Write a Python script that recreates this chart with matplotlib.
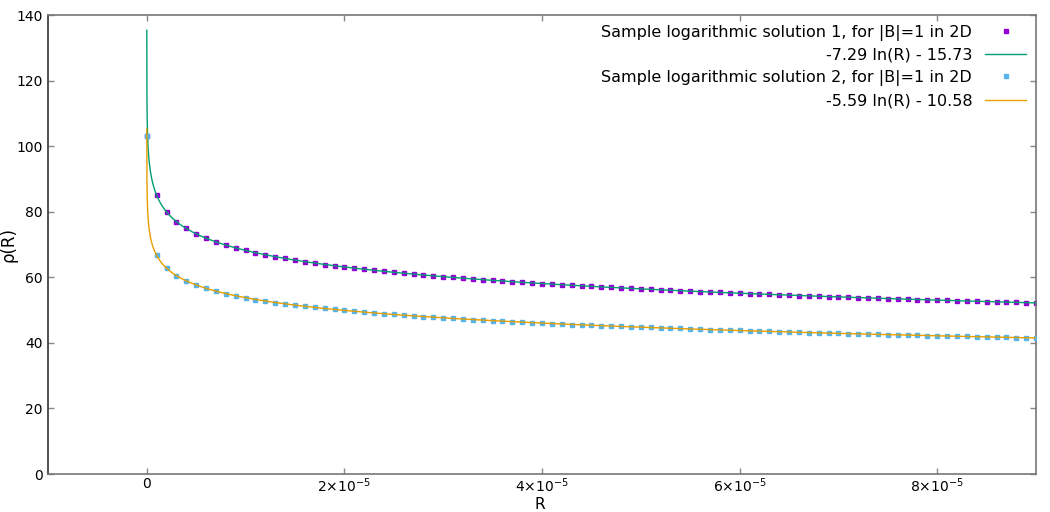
import numpy as np
import matplotlib
matplotlib.use("Agg")
import matplotlib.pyplot as plt
from matplotlib.ticker import FuncFormatter, MultipleLocator

# ---------- data ----------
# sample radius, step 1e-6 from 0 to 9e-5
R_step = 1e-6
n_points = 91

rho_sol1 = [103.0,
            85.0, 79.9, 77.0, 74.9, 73.3, 71.9, 70.8, 69.8, 69.0, 68.2,
            67.5, 66.9, 66.3, 65.8, 65.2, 64.8, 64.3, 63.9, 63.5, 63.2,
            62.8, 62.5, 62.1, 61.8, 61.5, 61.2, 61.0, 60.7, 60.4, 60.2,
            60.0, 59.7, 59.5, 59.3, 59.1, 58.9, 58.7, 58.5, 58.3, 58.1,
            57.9, 57.7, 57.6, 57.4, 57.2, 57.1, 56.9, 56.8, 56.6, 56.5,
            56.3, 56.2, 56.0, 55.9, 55.8, 55.6, 55.5, 55.4, 55.3, 55.1,
            55.0, 54.9, 54.8, 54.7, 54.6, 54.4, 54.3, 54.2, 54.1, 54.0,
            53.9, 53.8, 53.7, 53.6, 53.5, 53.4, 53.3, 53.2, 53.1, 53.0,
            53.0, 52.9, 52.8, 52.7, 52.6, 52.5, 52.4, 52.4, 52.3, 52.2]

rho_sol2 = [103.0,
            66.7, 62.8, 60.5, 58.9, 57.7, 56.6, 55.8, 55.0, 54.4, 53.8,
            53.2, 52.8, 52.3, 51.9, 51.5, 51.2, 50.8, 50.5, 50.2, 49.9,
            49.6, 49.4, 49.1, 48.9, 48.7, 48.4, 48.2, 48.0, 47.8, 47.6,
            47.5, 47.3, 47.1, 46.9, 46.8, 46.6, 46.5, 46.3, 46.2, 46.0,
            45.9, 45.8, 45.6, 45.5, 45.4, 45.2, 45.1, 45.0, 44.9, 44.8,
            44.7, 44.6, 44.5, 44.4, 44.2, 44.1, 44.0, 44.0, 43.9, 43.8,
            43.7, 43.6, 43.5, 43.4, 43.3, 43.2, 43.1, 43.1, 43.0, 42.9,
            42.8, 42.7, 42.7, 42.6, 42.5, 42.4, 42.4, 42.3, 42.2, 42.2,
            42.1, 42.0, 42.0, 41.9, 41.8, 41.8, 41.7, 41.6, 41.6, 41.5]

# fit coefficients from the legend: a ln(R) + b
fit1 = (-7.29, -15.73)
fit2 = (-5.59, -10.58)

labels = ["Sample logarithmic solution 1, for |B|=1 in 2D",
          "-7.29 ln(R) - 15.73",
          "Sample logarithmic solution 2, for |B|=1 in 2D",
          "-5.59 ln(R) - 10.58"]

# ---------- drawing ----------
plt.rcParams['mathtext.default'] = 'regular'
plt.rcParams['font.family'] = ['DejaVu Sans']

R = np.arange(n_points) * R_step
R_fit = np.concatenate([np.geomspace(1e-9, 1e-6, 200), np.linspace(1e-6, 9e-5, 800)[1:]])

fig = plt.figure(figsize=(10.5, 5.12), dpi=100)
ax = fig.add_axes([0.0457, 0.0742, 0.941, 0.8965])

ax.plot(R, rho_sol1, linestyle='none', marker='s', markersize=3.5,
        color='#9400d3', label=labels[0], zorder=2)
ax.plot(R_fit, fit1[0] * np.log(R_fit) + fit1[1], color='#009e73',
        linewidth=1.0, label=labels[1], zorder=3)
ax.plot(R, rho_sol2, linestyle='none', marker='s', markersize=2.5,
        color='#56b4e9', label=labels[2], zorder=4)
ax.plot(R_fit, fit2[0] * np.log(R_fit) + fit2[1], color='#e69f00',
        linewidth=1.0, label=labels[3], zorder=5)

ax.set_xlim(-1e-5, 9e-5)
ax.set_ylim(0, 140)
ax.xaxis.set_major_locator(MultipleLocator(2e-5))
ax.yaxis.set_major_locator(MultipleLocator(20))


def sci_fmt(v, pos):
    k = int(round(v / 1e-5))
    if k == 0:
        return "0"
    return "%d\u00d710$^{-5}$" % k


ax.xaxis.set_major_formatter(FuncFormatter(sci_fmt))
ax.tick_params(direction='in', length=4, width=1, color='#888888',
               top=True, right=True, labelsize=10, pad=4)
ax.tick_params(axis='x', pad=2)
for side in ['left', 'bottom', 'top', 'right']:
    ax.spines[side].set_color('#777777')
    ax.spines[side].set_linewidth(1.2)
ax.spines['left'].set_color('#333333')

ax.set_xlabel("R", fontsize=11)
ax.set_ylabel("\u03c1(R)", fontsize=12)
ax.xaxis.set_label_coords(0.498, -0.05, transform=ax.transAxes)
ax.yaxis.set_label_coords(-0.031, 0.5, transform=ax.transAxes)
ax.xaxis.label.set_va('top')

leg = ax.legend(loc='upper right', frameon=False, markerfirst=False,
                fontsize=11.5, handlelength=2.6, labelspacing=0.45,
                borderaxespad=0.2, alignment='right')
for t in leg.get_texts():
    t.set_horizontalalignment('right')

fig.savefig("out.png", dpi=100)
